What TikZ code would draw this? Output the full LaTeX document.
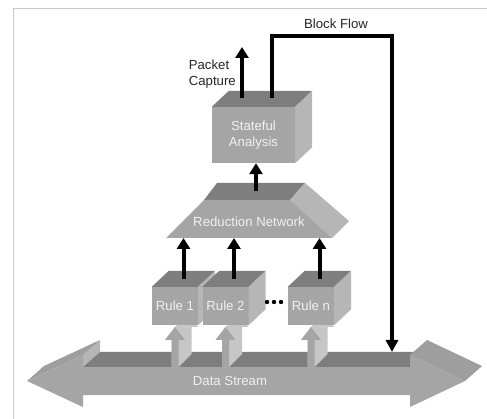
\documentclass[tikz,border=0pt]{standalone}
\usepackage{fontspec}
\setmainfont{Liberation Sans}
\usetikzlibrary{arrows.meta,calc}
\definecolor{gfront}{RGB}{165,165,165}
\definecolor{gtop}{RGB}{126,126,126}
\definecolor{gside}{RGB}{182,182,182}
\definecolor{gslant}{RGB}{158,158,158}
\definecolor{glight}{RGB}{198,198,198}
\definecolor{gframe}{RGB}{200,200,200}
\definecolor{gtext}{RGB}{240,240,240}

% top and right faces of a block, hung on its front node
\newcommand{\blockdepth}[1]{%
  \fill[gtop] (#1.north west) -- ++(17,-16) -- ($(#1.north east)+(17,-16)$)
    -- (#1.north east) -- cycle;
  \fill[gside] (#1.north east) -- ++(17,-16) -- ($(#1.south east)+(17,-16)$)
    -- (#1.south east) -- cycle;}

% light block arrow rising out of the stream
\newcommand{\feedarrow}[1]{%
  \begin{scope}[shift={(#1,367)}]
    \fill[glight] (-3.5,0) -- (3.5,0) -- (16.5,-13) -- (16.5,-40) -- (23,-40)
      -- (13,-53) -- (0,-40) -- (-10,-27) -- (-3.5,-27) -- cycle;
    \fill[gfront] (-3.5,0) -- (-3.5,-27) -- (-10,-27) -- (0,-40) -- (10,-27)
      -- (3.5,-27) -- (3.5,0) -- cycle;
  \end{scope}}

\begin{document}
\begin{tikzpicture}[
  x=1pt,y=-1pt,
  font=\fontsize{13.2}{16}\selectfont,
  front/.style={fill=gfront,inner sep=0pt,text=gtext,align=center},
  lbl/.style={text=gtext,inner sep=0pt},
  note/.style={text=black!85,inner sep=0pt},
  flow/.style={draw=black,line width=4pt,-{Triangle[length=11pt,width=13pt]}},
  blockline/.style={draw=black,line width=3.5pt,-{Triangle[length=12pt,width=12pt]}}
]
  \useasboundingbox (0,0) rectangle (487,419);
  \draw[gframe,line width=1pt] (13,419) -- (13,9) -- (487,9);

  % Data stream (double block arrow)
  \fill[gside] (83,355) -- (100,340) -- (100,352) -- (83,367) -- cycle;
  \fill[gtop] (83,367) -- (100,352) -- (427,352) -- (410,367) -- cycle;
  \fill[gslant] (27,381) -- (44,366) -- (100,340) -- (83,355) -- cycle;
  \fill[gslant] (410,355) -- (427,340) -- (482,366) -- (465,381) -- cycle;
  \fill[gfront] (27,381) -- (83,355) -- (83,367) -- (410,367) -- (410,355)
    -- (465,381) -- (410,407) -- (410,395) -- (83,395) -- (83,407) -- cycle;
  \node[lbl] (stream) at (230,381) {Data Stream};

  % Rules
  \foreach \x in {175,225.5,311} \feedarrow{\x};
  \foreach \n/\x/\t in {rule1/175/Rule 1,rule2/225.5/Rule 2,rulen/311/Rule n}{
    \node[front,minimum width=46,minimum height=38] (\n) at (\x,306) {\t};
    \blockdepth{\n}
    \coordinate (\n top) at ($(\n.north)+(8.5,-8)$);
  }
  \foreach \i in {0,1,2} \fill (267+7*\i,302) circle (2.2);

  % Reduction network
  \fill[gtop] (204,200) -- (217,183) -- (305,183) -- (290,200) -- cycle;
  \fill[gside] (290,200) -- (305,183) -- (349,221) -- (332,238) -- cycle;
  \fill[gfront] (166,238) -- (204,200) -- (290,200) -- (332,238) -- cycle;
  \node[lbl] (reduce) at (249,222) {Reduction Network};
  \coordinate (reduce bottom) at (249,238);
  \coordinate (reduce top) at (256,191);

  % Stateful analysis
  \node[front,minimum width=83,minimum height=56] (state) at (253.5,135)
    {Stateful\\Analysis};
  \blockdepth{state}
  \coordinate (capture) at ($(state.north)+(-11.5,-9)$);
  \coordinate (capture end) at (242,47);
  \coordinate (block) at ($(state.north)+(18.5,-9)$);
  \coordinate (turn) at (392,36);
  \coordinate (drop) at (392,352);

  % Arrows
  \foreach \n in {rule1,rule2,rulen}
    \draw[flow] (\n top) -- (\n top |- reduce bottom);
  \draw[flow] (reduce top) -- (reduce top |- state.south);
  \draw[flow] (capture) -- (capture end);
  \draw[blockline] (block) |- (turn) -- (drop);

  \node[note,align=left,anchor=east] (capture label) at (236,74) {Packet\\Capture};
  \node[note] (block label) at (336,24) {Block Flow};
\end{tikzpicture}
\end{document}
